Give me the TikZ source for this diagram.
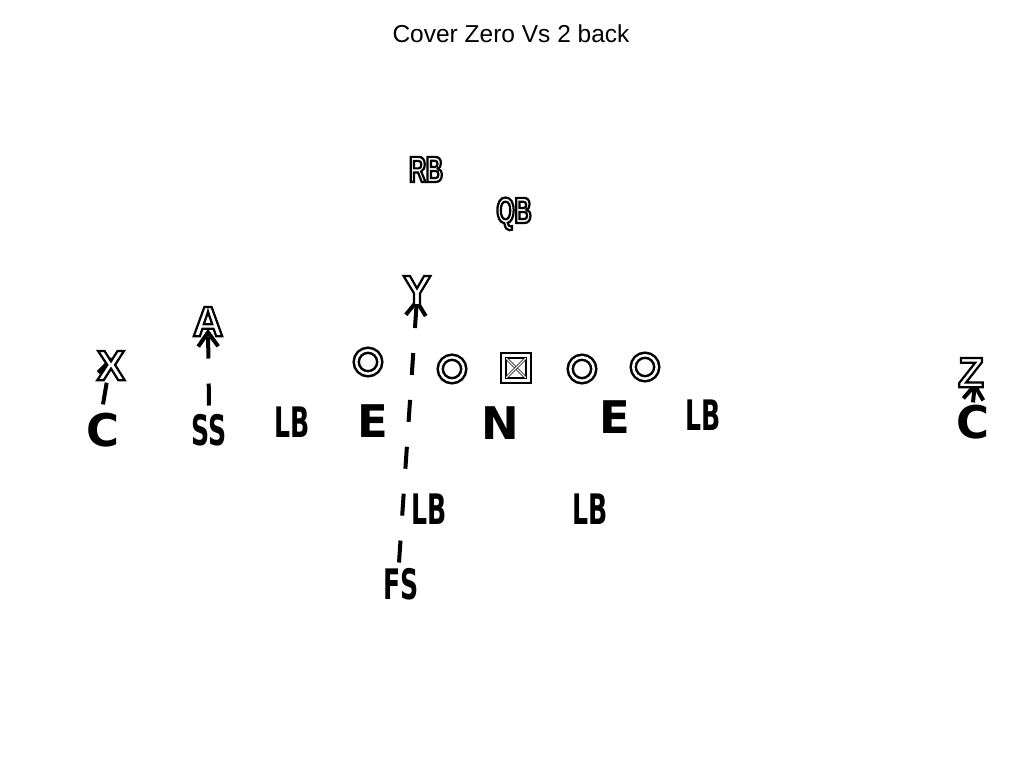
\documentclass[tikz,border=0pt]{standalone}
\usepackage{fontspec}
\setmainfont{Liberation Sans}
\newfontfamily\widefont{DejaVu Sans}
\newfontfamily\narrowfont{DejaVu Sans}[FakeStretch=0.6]
\newfontfamily\slimfont{Liberation Sans}[FakeStretch=0.64]
\usetikzlibrary{arrows.meta}
\pgfdeclarelayer{routes}
\pgfsetlayers{routes,main}

% hollow letters: white inside, black outline
\newcommand{\hollow}[1]{\special{pdf:literal direct 2 Tr 1 g 0 G 2.2 w}#1\special{pdf:literal direct 0 Tr 0 g 0 G}}

\tikzset{
  offense/.style={inner sep=0pt, text depth=0pt, text height=30.5pt, font=\bfseries\fontsize{42.5}{42.5}\selectfont},
  backs/.style={inner sep=0pt, text depth=0pt, text height=26pt, font=\slimfont\bfseries\fontsize{36.5}{36.5}\selectfont},
  lineman/.style={circle, draw, line width=2.5pt, double, double distance=2.5pt, minimum size=23.5pt, inner sep=0pt},
  snapper/.style={rectangle, draw, line width=2.5pt, double, double distance=2.5pt, minimum size=25pt, inner sep=0pt},
  defbig/.style={inner sep=0pt, text depth=0pt, text height=32.8pt, font=\widefont\bfseries\fontsize{45}{45}\selectfont},
  defslim/.style={inner sep=0pt, text depth=0pt, text height=30.6pt, font=\narrowfont\bfseries\fontsize{42}{42}\selectfont},
  route/.style={->, line width=4pt, dash pattern=on 22pt off 25pt}
}

\begin{document}
\begin{tikzpicture}[x=1pt,y=-1pt,>={Straight Barb[length=14pt,width=20pt]}]
    \useasboundingbox (0,0) rectangle (1024,768);

    % title
    \node[inner sep=0pt, text depth=0pt, text height=17.5pt, font=\fontsize{24.5}{24.5}\selectfont] (title) at (511,34) {Cover Zero Vs 2 back};

    % backs
    \node[backs] (rb) at (426,169) {\hollow{RB}};
    \node[backs] (qb) at (514,210) {\hollow{QB}};

    % receivers
    \node[offense] (recy) at (417,290) {\hollow{Y}};
    \node[offense] (reca) at (208,321) {\hollow{A}};
    \node[offense] (recx) at (111,365) {\hollow{X}};
    \node[offense] (recz) at (971,372) {\hollow{Z}};

    % line
    \node[lineman] (ol1) at (368,362) {};
    \node[lineman] (ol2) at (452,369) {};
    \node[snapper] (ctr) at (516,368) {};
    \node[lineman] (ol4) at (582,369) {};
    \node[lineman] (ol5) at (645,367) {};
    \draw[line width=0.8pt, double, double distance=1.2pt] ([shift={(4pt,-4pt)}]ctr.north west) -- ([shift={(-4pt,4pt)}]ctr.south east);
    \draw[line width=0.8pt, double, double distance=1.2pt] ([shift={(-4pt,-4pt)}]ctr.north east) -- ([shift={(4pt,4pt)}]ctr.south west);

    % defense
    \node[defbig] (cl) at (103,430) {C};
    \node[defslim] (ss) at (209,430) {SS};
    \node[defslim] (lbl) at (292,422) {LB};
    \node[defbig] (el) at (373,421) {E};
    \node[defbig] (nt) at (500,423) {N};
    \node[defbig] (er) at (615,417) {E};
    \node[defslim] (lbr) at (703,415) {LB};
    \node[defbig] (cr) at (973,422) {C};
    \node[defslim] (lbm) at (429,509) {LB};
    \node[defslim] (lbw) at (590,509) {LB};
    \node[defslim] (fs) at (401,584) {FS};

    % man coverage
    \begin{pgfonlayer}{routes}
        \draw[route] ([yshift=9pt]cl.north) -- ([yshift=8pt]recx.center);
        \draw[route] ([yshift=9pt]ss.north) -- ([yshift=-8pt]reca.center);
        \draw[route] ([shift={(-2pt,6pt)}]fs.north) -- ([yshift=-8pt]recy.center);
        \draw[route] ([yshift=3pt]cr.north) -- ([shift={(4pt,-10pt)}]recz.center);
    \end{pgfonlayer}
\end{tikzpicture}
\end{document}
